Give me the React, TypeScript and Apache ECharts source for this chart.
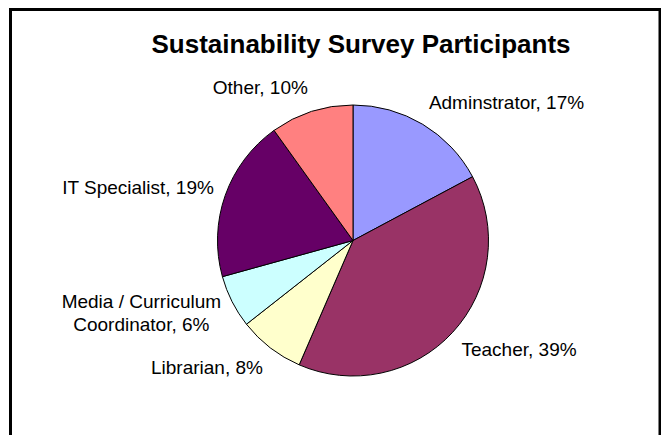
import React, { useEffect, useRef } from "react";
import * as echarts from "echarts";

const titleText = "Sustainability Survey Participants";
const categories = [
  "Adminstrator",
  "Teacher",
  "Librarian",
  "Media / Curriculum\nCoordinator",
  "IT Specialist",
  "Other",
];
const values = [17.2, 39.3, 7.9, 6.3, 19.4, 9.9];
const colors = ["#9999FF", "#993366", "#FFFFCC", "#CCFFFF", "#660066", "#FF8080"];

const FONT = 'Arial, "Liberation Sans", sans-serif';
const CX = 353;
const CY = 240.5;
const R = 135.5;

export default function App() {
  const ref = useRef<HTMLDivElement>(null);
  useEffect(() => {
    if (!ref.current) return;
    const chart = echarts.init(ref.current, undefined, { renderer: "svg" });
    const total = values.reduce((a, b) => a + b, 0);
    const midAngles: number[] = [];
    let acc = 0;
    values.forEach((v) => {
      midAngles.push(((acc + v / 2) / total) * Math.PI * 2);
      acc += v;
    });
    chart.setOption({
      animation: false,
      backgroundColor: "#ffffff",
      graphic: [
        {
          type: "rect",
          shape: { x: 10.5, y: 9.5, width: 649.5, height: 440 },
          style: { fill: "none", stroke: "#000000", lineWidth: 3 },
          silent: true,
        },
        {
          type: "text",
          x: 361,
          y: 44,
          style: {
            text: titleText,
            font: `bold 26px ${FONT}`,
            fill: "#000000",
            align: "center",
            verticalAlign: "middle",
            textAlign: "center",
            textVerticalAlign: "middle",
          },
        },
      ],
      series: [
        {
          type: "pie",
          center: [CX, CY],
          radius: R,
          startAngle: 90,
          clockwise: true,
          avoidLabelOverlap: false,
          itemStyle: { borderColor: "#000000", borderWidth: 1 },
          label: {
            show: true,
            position: "outside",
            color: "#000000",
            fontFamily: FONT,
            fontSize: 19,
            lineHeight: 23,
            distanceToLabelLine: 0,
            formatter: (p: any) => {
              const pct = Math.round((p.value / total) * 100);
              const lines = (p.name + ", " + pct + "%").split("\n");
              if (lines.length === 1) return lines[0];
              return lines.map((l: string) => `{c|${l}}`).join("\n");
            },
            rich: {
              c: {
                width: 160,
                align: "center",
                fontFamily: FONT,
                fontSize: 19,
                lineHeight: 23,
                color: "#000000",
              },
            },
          },
          labelLine: { show: false, length: 20, length2: 0 },
          labelLayout: (p: any) => {
            const a = midAngles[p.dataIndex];
            const s = Math.sin(a);
            const c = Math.cos(a);
            return {
              x: CX + (R + 12) * s,
              y: CY - (R + 25) * c,
              align: s >= 0 ? "left" : "right",
              verticalAlign: "middle",
            };
          },
          data: categories.map((name, i) => ({
            name,
            value: values[i],
            itemStyle: { color: colors[i] },
          })),
        },
      ],
    });
    return () => chart.dispose();
  }, []);
  return (
    <div
      ref={ref}
      style={{ position: "fixed", left: 0, top: 0, width: 661, height: 435 }}
    />
  );
}
